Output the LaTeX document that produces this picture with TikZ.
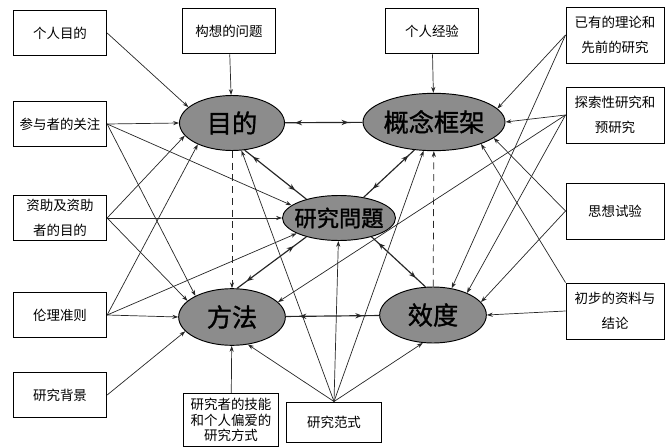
\documentclass[tikz,border=0pt]{standalone}
\usepackage{fontspec}
\setmainfont{Noto Sans CJK SC}
\newfontfamily\ovalfont[FakeBold=1.2]{Noto Sans CJK SC}
\usetikzlibrary{arrows.meta,shapes.geometric,decorations.markings}

\begin{document}
\begin{tikzpicture}[x=0.03cm, y=-0.03cm,
   box/.style={draw, line width=0.8pt, align=center, minimum width=2.8cm,
               minimum height=1.37cm, font=\fontsize{11.5}{21}\selectfont},
   rbox/.style={box, minimum width=2.94cm, minimum height=1.68cm},
   oval/.style={draw, ellipse, line width=0.8pt, fill=black!45, inner xsep=-8pt,
                inner ysep=1pt, font=\ovalfont\fontsize{21.5}{24}\selectfont},
   link/.style={draw=black!85, line width=0.6pt, -{Stealth[length=5pt,width=3.5pt]}},
   twoway/.style={draw=black!85, line width=1pt, postaction={decorate},
      decoration={markings,
        mark=at position 0.22 with {\arrow{Stealth[length=6pt,width=4.5pt,reversed]}},
        mark=at position 0.82 with {\arrow{Stealth[length=6pt,width=4.5pt]}}}}]

\useasboundingbox (0,0) rectangle (665,447);

% context boxes
\node[box] (pgoal) at (60,33) {个人目的};
\node[box] (pprob) at (229,31) {构想的问题};
\node[box] (pexp) at (432,31) {个人经验};
\node[rbox] (theory) at (615,35) {已有的理论和\\先前的研究};
\node[box] (part) at (60,124) {参与者的关注};
\node[rbox] (pilot) at (615,115) {探索性研究和\\预研究};
\node[box] (fund) at (60,218) {资助及资助\\者的目的};
\node[rbox] (thought) at (615,211) {思想试验};
\node[box] (ethic) at (60,315) {伦理准则};
\node[rbox] (prelim) at (615,311) {初步的资料与\\结论};
\node[box] (setting) at (60,395) {研究背景};
\node[box, minimum width=2.85cm, minimum height=1.59cm, inner sep=1pt,
      font=\fontsize{11.5}{13.5}\selectfont] (skill) at (231,420) {研究者的技能\\和个人偏爱的\\研究方式};
\node[box, minimum width=2.85cm, minimum height=1.2cm] (paradigm) at (334,422) {研究范式};

% the five components
\node[oval, minimum width=3.15cm, minimum height=1.65cm] (goal) at (232,123) {目的};
\node[oval, minimum width=4.26cm, minimum height=1.72cm] (frame) at (434,122) {概念框架};
\node[oval, minimum width=3.39cm, minimum height=1.35cm,
      font=\ovalfont\fontsize{19}{22}\selectfont] (rq) at (339,218) {研究問題};
\node[oval, minimum width=3.2cm, minimum height=1.7cm] (method) at (232,317) {方法};
\node[oval, minimum width=3.2cm, minimum height=1.68cm] (valid) at (433,315) {效度};

% left side
\draw[link] (pgoal.east) -- (goal.160);
\draw[link] (pprob) -- (goal);
\draw[link] (part.east) -- (goal.west);
\draw[link] (fund.east) -- (goal.195);
\draw[link] (ethic.east) -- (goal.212);
\draw[link] (part.east) -- (rq.165);
\draw[link] (fund.east) -- (rq.west);
\draw[link] (ethic.east) -- (rq.200);
\draw[link] (part.east) -- (method.150);
\draw[link] (fund.east) -- (method.160);
\draw[link] (ethic.east) -- (method.west);
\draw[link] (setting.east) -- (method.197);
\draw[link] (skill) -- (method);

% right side
\draw[link] (pexp) -- (frame);
\draw[link] (theory.west) -- (frame.12);
\draw[link] (pilot.west) -- (frame.east);
\draw[link] (thought.west) -- (frame.345);
\draw[link] (prelim.north west) -- (frame.335);
\draw[link] (theory.west) -- (valid.55);
\draw[link] (pilot.west) -- (valid.33);
\draw[link] (thought.west) -- (valid.15);
\draw[link] (prelim.west) -- (valid.east);
\draw[link] (pilot.west) -- (method.18);

% research paradigm
\draw[link] (paradigm.north) -- (goal.289);
\draw[link] (paradigm.north) -- (rq);
\draw[link] (paradigm.north) -- (frame.250);
\draw[link] (paradigm.north) -- (method.300);
\draw[link] (paradigm.north) -- (valid.250);

% dashed and two-way links
\draw[link, dash pattern=on 6pt off 4pt] (goal) -- (method);
\draw[link, dash pattern=on 6pt off 4pt] (valid) -- (frame);
\draw[twoway] (goal) -- (frame);
\draw[twoway] (goal.295) -- (rq.150);
\draw[twoway] (frame.235) -- (rq.40);
\draw[twoway] (method.80) -- (rq.210);
\draw[twoway] (rq.330) -- (valid.105);
\draw[twoway] (method) -- (valid);

\end{tikzpicture}
\end{document}
